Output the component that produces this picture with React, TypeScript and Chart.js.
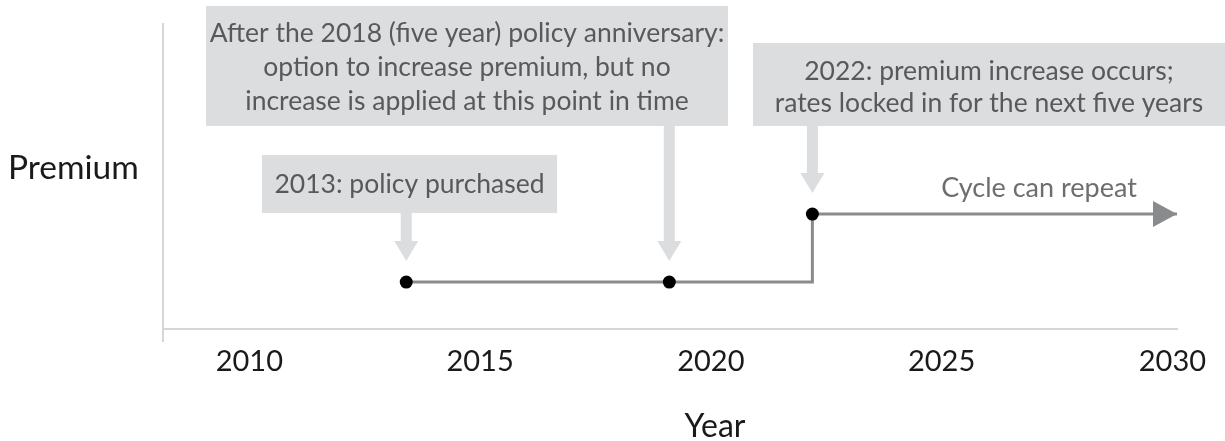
import React, { useEffect, useRef } from "react";
import { Chart, registerables } from "chart.js";

Chart.register(...registerables);

// ---- data ----
const YEARS = [2013.4, 2019.1, 2022.2, 2030.1];
const PREMIUM = [1, 1, 2.45, 2.45];
const X_TICKS = [2010, 2015, 2020, 2025, 2030];
const X_MIN = 2008.13;
const X_MAX = 2030.1;
const Y_MIN = 0;
const Y_MAX = 6.5;
const NOTE_POINTS = [1, 0, 2];
const NOTE_LINES = [
  [
    "After the 2018 (five year) policy anniversary:",
    "option to increase premium, but no",
    "increase is applied at this point in time",
  ],
  ["2013: policy purchased"],
  ["2022: premium increase occurs;", "rates locked in for the next five years"],
];
const CYCLE_LABEL = "Cycle can repeat";
const X_TITLE = "Year";
const Y_TITLE = "Premium";

// ---- styles / layout ----
const W = 1225;
const H = 441;
const FONT = "Lato, 'Open Sans', sans-serif";
const NOTE_FONT = `26.5px ${FONT}`;
const BOX_FILL = "#dcdddf";
const NOTE_COLOR = "#58595b";
const LINE_COLOR = "#8a8b8d";
const AXIS_COLOR = "#d6d6d6";
const TEXT_COLOR = "#1a1a1a";
const BOXES = [
  { x: 206, y: 6, w: 522, h: 120, base: 42, lh: 34 },
  { x: 262, y: 155, w: 295, h: 58, base: 193, lh: 32 },
  { x: 753, y: 43, w: 472, h: 83, base: 80, lh: 32 },
];

const notesPlugin = {
  id: "notes",
  beforeDatasetsDraw(chart: any) {
    const ctx = chart.ctx;
    const meta = chart.getDatasetMeta(0);
    ctx.save();
    BOXES.forEach((b, i) => {
      ctx.fillStyle = BOX_FILL;
      ctx.fillRect(b.x, b.y, b.w, b.h);
      ctx.fillStyle = NOTE_COLOR;
      ctx.font = NOTE_FONT;
      ctx.textAlign = "center";
      ctx.textBaseline = "alphabetic";
      NOTE_LINES[i].forEach((t, j) => ctx.fillText(t, b.x + b.w / 2, b.base + j * b.lh));
      const pt = meta.data[NOTE_POINTS[i]];
      const ax = pt.x;
      const tipY = pt.y - 21;
      const top = b.y + b.h;
      ctx.fillStyle = BOX_FILL;
      ctx.fillRect(ax - 5.5, top, 11, tipY - 20 - top + 1);
      ctx.beginPath();
      ctx.moveTo(ax - 12, tipY - 20);
      ctx.lineTo(ax + 12, tipY - 20);
      ctx.lineTo(ax, tipY);
      ctx.closePath();
      ctx.fill();
    });
    ctx.restore();
  },
  afterDatasetsDraw(chart: any) {
    const ctx = chart.ctx;
    const meta = chart.getDatasetMeta(0);
    const last = meta.data[meta.data.length - 1];
    ctx.save();
    ctx.fillStyle = LINE_COLOR;
    ctx.beginPath();
    ctx.moveTo(last.x, last.y);
    ctx.lineTo(last.x - 24, last.y - 13);
    ctx.lineTo(last.x - 24, last.y + 13);
    ctx.closePath();
    ctx.fill();
    ctx.fillStyle = "#6d6e70";
    ctx.font = `27px ${FONT}`;
    ctx.textAlign = "center";
    ctx.textBaseline = "alphabetic";
    ctx.fillText(CYCLE_LABEL, 1039, last.y - 17);
    ctx.restore();
  },
  afterDraw(chart: any) {
    const ctx = chart.ctx;
    const { left, bottom } = chart.chartArea;
    ctx.save();
    ctx.strokeStyle = AXIS_COLOR;
    ctx.lineWidth = 2;
    ctx.beginPath();
    ctx.moveTo(left, bottom);
    ctx.lineTo(left, bottom + 13);
    ctx.stroke();
    ctx.fillStyle = TEXT_COLOR;
    ctx.font = `33.5px ${FONT}`;
    ctx.textBaseline = "alphabetic";
    ctx.textAlign = "left";
    ctx.fillText(Y_TITLE, 8, 179);
    ctx.font = `32px ${FONT}`;
    ctx.textAlign = "center";
    ctx.fillText(X_TITLE, 715, 437);
    ctx.restore();
  },
};

export default function App() {
  const ref = useRef<HTMLCanvasElement | null>(null);
  useEffect(() => {
    document.body.style.margin = "0";
    const canvas = ref.current;
    if (!canvas) return;
    const chart = new Chart(canvas, {
      type: "line",
      data: {
        datasets: [
          {
            data: YEARS.map((x, i) => ({ x, y: PREMIUM[i] })),
            borderColor: LINE_COLOR,
            borderWidth: 3,
            stepped: true,
            pointRadius: YEARS.map((_, i) => (i < YEARS.length - 1 ? 6.5 : 0)),
            pointBackgroundColor: "#000",
            pointBorderWidth: 0,
            pointHoverRadius: 0,
          },
        ],
      },
      options: {
        responsive: false,
        animation: false,
        events: [],
        layout: { padding: { top: 24, left: 163, right: W - 1177, bottom: 0 } },
        plugins: { legend: { display: false }, tooltip: { enabled: false } },
        scales: {
          x: {
            type: "linear",
            min: X_MIN,
            max: X_MAX,
            afterBuildTicks: (s: any) => {
              s.ticks = X_TICKS.map((v) => ({ value: v }));
            },
            afterFit: (s: any) => {
              s.height = H - 329;
            },
            grid: { display: false, drawTicks: false },
            border: { display: true, color: AXIS_COLOR, width: 2 },
            ticks: {
              color: TEXT_COLOR,
              font: { family: FONT, size: 29 },
              padding: 15,
              maxRotation: 0,
              autoSkip: false,
              callback: (v: any) => String(v),
            },
          },
          y: {
            type: "linear",
            min: Y_MIN,
            max: Y_MAX,
            afterFit: (s: any) => {
              s.width = 0;
            },
            grid: { display: false, drawTicks: false },
            border: { display: true, color: AXIS_COLOR, width: 2 },
            ticks: { display: false },
          },
        },
      },
      plugins: [notesPlugin],
    });
    return () => chart.destroy();
  }, []);
  return (
    <div style={{ width: W, height: H }}>
      <canvas ref={ref} width={W} height={H} />
    </div>
  );
}
